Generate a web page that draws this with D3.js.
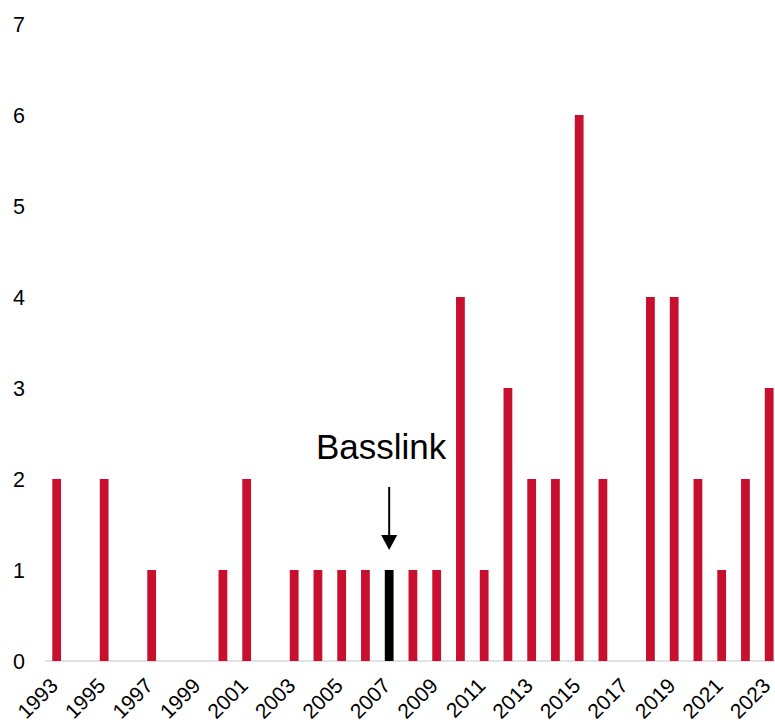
<!DOCTYPE html>
<html>
<head>
<meta charset="utf-8">
<script src="https://cdn.jsdelivr.net/npm/d3@7"></script>
<style>
  html, body { margin: 0; padding: 0; background: #fff; }
  svg { display: block; font-family: "Liberation Sans", Arial, sans-serif; }
</style>
</head>
<body>
<svg id="chart" width="775" height="726"></svg>
<script>
const years = [1993,1994,1995,1996,1997,1998,1999,2000,2001,2002,2003,2004,2005,2006,2007,2008,2009,2010,2011,2012,2013,2014,2015,2016,2017,2018,2019,2020,2021,2022,2023];
const counts = [2,0,2,0,1,0,0,1,2,0,1,1,1,1,1,1,1,4,1,3,2,2,6,2,0,4,4,2,1,2,3];
const yTicks = [0,1,2,3,4,5,6,7];
const xTickLabels = [1993,1995,1997,1999,2001,2003,2005,2007,2009,2011,2013,2015,2017,2019,2021,2023];
const highlightYear = 2007;
const annotationText = "Basslink";

const data = years.map((y, i) => ({ year: y, value: counts[i] }));
const svg = d3.select("#chart");

const x = d3.scaleBand()
  .domain(years)
  .range([44.8, 44.8 + 31 * 23.75])
  .paddingInner(0.63)
  .paddingOuter(0.315);

const y = d3.scaleLinear().domain([0, 7]).range([661, 24]);

// baseline
svg.append("line")
  .attr("x1", 45).attr("x2", 775)
  .attr("y1", y(0)).attr("y2", y(0))
  .attr("stroke", "#d9d9d9").attr("stroke-width", 1.5);

// bars
svg.append("g").selectAll("rect")
  .data(data.filter(d => d.value > 0))
  .join("rect")
  .attr("x", d => x(d.year))
  .attr("width", x.bandwidth())
  .attr("y", d => y(d.value))
  .attr("height", d => y(0) - y(d.value))
  .attr("fill", d => d.year === highlightYear ? "#000000" : "#c8102e");

// y axis labels
svg.append("g").selectAll("text")
  .data(yTicks)
  .join("text")
  .attr("x", 25)
  .attr("y", d => y(d))
  .attr("dy", "0.36em")
  .attr("text-anchor", "end")
  .attr("font-size", 21.5)
  .attr("fill", "#000")
  .text(d => d);

// x axis labels
svg.append("g").selectAll("text")
  .data(xTickLabels)
  .join("text")
  .attr("text-anchor", "end")
  .attr("font-size", 21)
  .attr("fill", "#000")
  .attr("transform", d => `translate(${x(d) + x.bandwidth() / 2 + 2.5},${y(0) + 26}) rotate(-45)`)
  .text(d => d);

// annotation
const ax = x(highlightYear) + x.bandwidth() / 2;
const tipY = y(1) - 20;
svg.append("line")
  .attr("x1", ax).attr("x2", ax)
  .attr("y1", tipY - 63).attr("y2", tipY - 14)
  .attr("stroke", "#000").attr("stroke-width", 2);
svg.append("path")
  .attr("d", `M${ax - 8},${tipY - 15} L${ax + 8},${tipY - 15} L${ax},${tipY} Z`)
  .attr("fill", "#000");
svg.append("text")
  .attr("x", ax - 8)
  .attr("y", tipY - 91)
  .attr("text-anchor", "middle")
  .attr("font-size", 35)
  .attr("fill", "#000")
  .text(annotationText);
</script>
</body>
</html>
